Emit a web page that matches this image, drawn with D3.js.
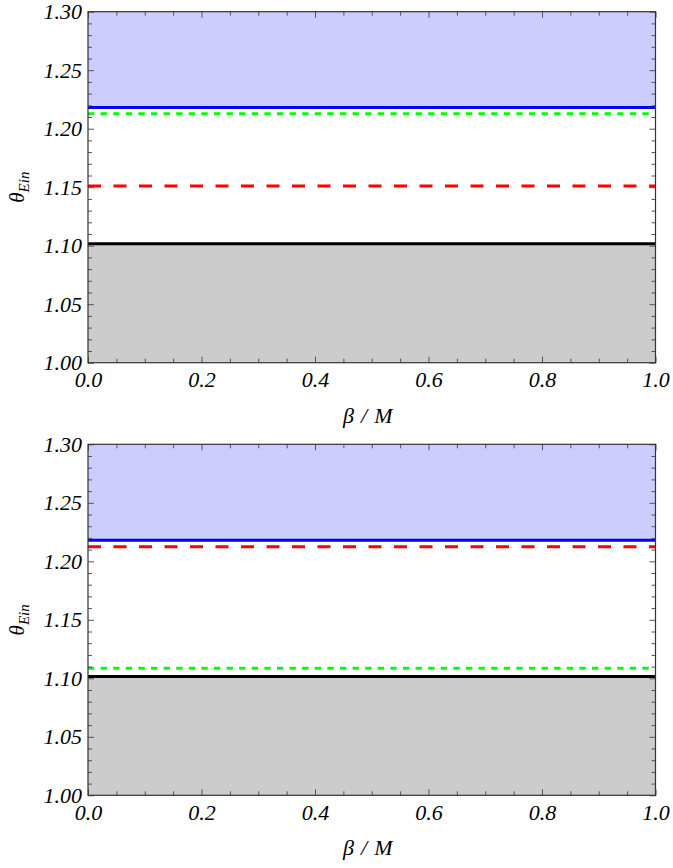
<!DOCTYPE html>
<html>
<head>
<meta charset="utf-8">
<script src="https://cdn.jsdelivr.net/npm/d3@7"></script>
<style>
  body { margin: 0; background: #fff; }
</style>
</head>
<body>
<div id="chart"></div>
<script>
// the data
var beta = [0.0, 1.0];

// upper panel
var topBlue  = [1.2181, 1.2181];
var topGreen = [1.2127, 1.2127];
var topRed   = [1.1510, 1.1510];
var topBlack = [1.1016, 1.1016];

// lower panel
var botBlue  = [1.2179, 1.2179];
var botRed   = [1.2124, 1.2124];
var botGreen = [1.1086, 1.1086];
var botBlack = [1.1016, 1.1016];

var xTicks = [0.0, 0.2, 0.4, 0.6, 0.8, 1.0];
var yTicks = [1.00, 1.05, 1.10, 1.15, 1.20, 1.25, 1.30];
var xDomain = [0, 1];
var yDomain = [1.00, 1.30];

var serif = '"Liberation Serif", "Times New Roman", serif';

var screen = {width: 673, height: 868};
var margins = {left: 88, right: 17.5};
var width = screen.width - margins.left - margins.right;
var plotHeight = 351;

var svg = d3.select("#chart")
  .append("svg")
  .attr("width", screen.width)
  .attr("height", screen.height);

var xScale = d3.scaleLinear().domain(xDomain).range([0, width]);
var yScale = d3.scaleLinear().domain(yDomain).range([plotHeight, 0]);

// minor tick positions
var xMinor = d3.range(0, 1.0001, 0.05).filter(function(v) { return Math.abs(v * 5 - Math.round(v * 5)) > 1e-6; });
var yMinor = d3.range(1.0, 1.3001, 0.01).filter(function(v) { return Math.abs(v * 20 - Math.round(v * 20)) > 1e-6; });

var toPoints = function(vals)
{
  return beta.map(function(b, i) { return {x: b, y: vals[i]}; });
};

var italic = function(sel, size)
{
  sel.style("font-family", serif).style("font-style", "italic").style("font-size", size + "px");
};

var drawPanel = function(top, lines, blueFill, blackFill)
{
  var g = svg.append("g")
    .attr("transform", "translate(" + margins.left + "," + top + ")");

  // shaded regions: above the blue line, below the black line
  var areaTop = d3.area()
    .x(function(d) { return xScale(d.x); })
    .y0(function() { return yScale(yDomain[1]); })
    .y1(function(d) { return yScale(d.y); });

  var areaBottom = d3.area()
    .x(function(d) { return xScale(d.x); })
    .y0(function() { return yScale(yDomain[0]); })
    .y1(function(d) { return yScale(d.y); });

  g.append("path")
    .datum(toPoints(blueFill))
    .attr("d", areaTop)
    .attr("fill", "#ccccff");

  g.append("path")
    .datum(toPoints(blackFill))
    .attr("d", areaBottom)
    .attr("fill", "#cccccc");

  var line = d3.line()
    .x(function(d) { return xScale(d.x); })
    .y(function(d) { return yScale(d.y); });

  lines.forEach(function(l)
  {
    g.append("path")
      .datum(toPoints(l.vals))
      .attr("d", line)
      .attr("fill", "none")
      .attr("stroke", l.color)
      .attr("stroke-width", 3)
      .attr("stroke-dasharray", l.dash);
  });

  // axes, ticks point inward
  var fmtX = d3.format(".1f");
  var fmtY = d3.format(".2f");

  var styleAxis = function(sel)
  {
    sel.attr("font-family", null).attr("font-size", null);
    sel.select(".domain").remove();
    sel.selectAll(".tick line").attr("stroke", "#555");
    sel.selectAll("text").attr("fill", "#000").call(italic, 22);
  };

  g.append("g").attr("transform", "translate(0," + plotHeight + ")")
    .call(d3.axisBottom(xScale).tickValues(xTicks).tickSize(-6).tickPadding(9).tickFormat(fmtX))
    .call(styleAxis);
  g.append("g").attr("transform", "translate(0," + plotHeight + ")")
    .call(d3.axisBottom(xScale).tickValues(xMinor).tickSize(-4).tickFormat(""))
    .call(styleAxis);
  g.append("g")
    .call(d3.axisTop(xScale).tickValues(xTicks).tickSize(-6).tickFormat(""))
    .call(styleAxis);
  g.append("g")
    .call(d3.axisTop(xScale).tickValues(xMinor).tickSize(-4).tickFormat(""))
    .call(styleAxis);

  g.append("g")
    .call(d3.axisLeft(yScale).tickValues(yTicks).tickSize(-6).tickPadding(6).tickFormat(fmtY))
    .call(styleAxis);
  g.append("g")
    .call(d3.axisLeft(yScale).tickValues(yMinor).tickSize(-4).tickFormat(""))
    .call(styleAxis);
  g.append("g").attr("transform", "translate(" + width + ",0)")
    .call(d3.axisRight(yScale).tickValues(yTicks).tickSize(-6).tickFormat(""))
    .call(styleAxis);
  g.append("g").attr("transform", "translate(" + width + ",0)")
    .call(d3.axisRight(yScale).tickValues(yMinor).tickSize(-4).tickFormat(""))
    .call(styleAxis);

  // frame
  g.append("rect")
    .attr("width", width)
    .attr("height", plotHeight)
    .attr("fill", "none")
    .attr("stroke", "#333")
    .attr("stroke-width", 1.2);

  // axis titles
  var xt = g.append("text")
    .attr("x", width / 2 - 4)
    .attr("y", plotHeight + 60)
    .attr("text-anchor", "middle")
    .call(italic, 22);
  xt.append("tspan").text("\u03B2");
  xt.append("tspan").attr("dx", 7).text("/");
  xt.append("tspan").attr("dx", 7).text("M");

  var yt = g.append("text")
    .attr("transform", "translate(" + (-64) + "," + (plotHeight / 2) + ") rotate(-90)")
    .attr("text-anchor", "middle")
    .call(italic, 21);
  yt.append("tspan").text("\u03B8");
  yt.append("tspan").attr("dy", 5).style("font-size", "15px").text("Ein");
};

drawPanel(11.7, [
  {vals: topBlack, color: "#000000", dash: null},
  {vals: topRed, color: "#ff0000", dash: "13,12.5"},
  {vals: topGreen, color: "#00ff00", dash: "6.3,6.3"},
  {vals: topBlue, color: "#0000ff", dash: null}
], topBlue, topBlack);

drawPanel(444.3, [
  {vals: botBlack, color: "#000000", dash: null},
  {vals: botGreen, color: "#00ff00", dash: "6.3,6.3"},
  {vals: botRed, color: "#ff0000", dash: "13,12.5"},
  {vals: botBlue, color: "#0000ff", dash: null}
], botBlue, botBlack);
</script>
</body>
</html>
